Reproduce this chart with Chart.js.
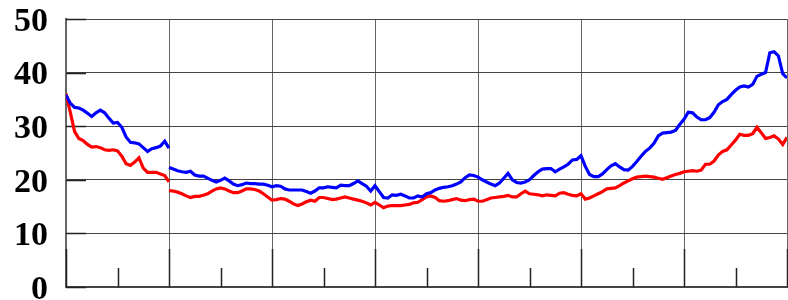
<!DOCTYPE html>
<html>
<head>
<meta charset="utf-8">
<script src="https://cdn.jsdelivr.net/npm/chart.js@4"></script>
<style>
  html, body { margin: 0; padding: 0; background: #fff; }
  #wrap { width: 788px; height: 300px; }
</style>
</head>
<body>
<div id="wrap"><canvas id="chart"></canvas></div>
<script>
// monthly index, 0..168 (7 blocks of 24)
const months = Array.from({ length: 169 }, (_, i) => i);

const yTicks = [0, 10, 20, 30, 40, 50];

// blue, first segment (months 0-24)
const blueOld = [
  35.8, 34.3, 33.5, 33.4, 33.0, 32.4, 31.8, 32.5, 33.0, 32.5,
  31.5, 30.6, 30.7, 29.8, 28.0, 27.0, 26.9, 26.7, 26.0, 25.3,
  25.8, 26.0, 26.3, 27.2, 25.9
];

// blue, second segment (months 24-168)
const blueNew = [
  22.3, 22.0, 21.7, 21.5, 21.4, 21.6, 20.9, 20.7, 20.7, 20.3,
  19.9, 19.6, 19.9, 20.3, 19.8, 19.2, 18.9, 19.1, 19.4, 19.3,
  19.3, 19.2, 19.2, 19.0, 18.7, 18.9, 18.8, 18.3, 18.1, 18.1,
  18.1, 18.1, 17.8, 17.5, 17.9, 18.5, 18.5, 18.7, 18.6, 18.5,
  19.0, 18.9, 18.9, 19.3, 19.8, 19.3, 18.8, 17.9, 18.9, 17.8,
  16.7, 16.6, 17.2, 17.1, 17.3, 17.0, 16.6, 16.6, 17.0, 16.8,
  17.4, 17.6, 18.1, 18.4, 18.6, 18.7, 18.9, 19.2, 19.6, 20.4,
  20.9, 20.8, 20.5, 20.0, 19.6, 19.2, 18.9, 19.4, 20.3, 21.2,
  20.0, 19.5, 19.4, 19.6, 20.0, 20.8, 21.5, 22.0, 22.1, 22.1,
  21.5, 22.0, 22.4, 22.9, 23.7, 23.8, 24.5, 22.5, 21.0, 20.6,
  20.6, 21.1, 21.9, 22.6, 23.0, 22.4, 21.9, 21.8, 22.5, 23.4,
  24.4, 25.3, 25.9, 26.8, 28.2, 28.7, 28.8, 28.9, 29.2, 30.3,
  31.3, 32.6, 32.5, 31.7, 31.2, 31.2, 31.6, 32.6, 34.0, 34.6,
  35.0, 35.9, 36.7, 37.3, 37.5, 37.3, 37.8, 39.3, 39.7, 40.0,
  43.7, 43.9, 43.1, 39.8, 39.0
];

// red, first segment (months 0-24)
const redOld = [
  36.1, 32.6, 29.0, 27.7, 27.3, 26.6, 26.1, 26.2, 26.0, 25.6,
  25.5, 25.6, 25.4, 24.4, 23.0, 22.7, 23.3, 24.1, 22.2, 21.4,
  21.4, 21.4, 21.1, 20.8, 19.6
];

// red, second segment (months 24-168)
const redNew = [
  18.0, 17.9, 17.7, 17.4, 17.0, 16.7, 16.9, 16.9, 17.1, 17.4,
  17.9, 18.3, 18.5, 18.3, 17.9, 17.6, 17.6, 17.9, 18.3, 18.3,
  18.2, 17.9, 17.4, 16.8, 16.2, 16.3, 16.5, 16.4, 16.0, 15.5,
  15.2, 15.5, 15.9, 16.2, 16.0, 16.7, 16.7, 16.5, 16.3, 16.4,
  16.6, 16.8, 16.6, 16.4, 16.2, 16.0, 15.7, 15.3, 15.8, 15.3,
  14.8, 15.1, 15.2, 15.2, 15.2, 15.3, 15.4, 15.7, 15.8, 16.3,
  16.8, 17.0, 16.7, 16.1, 16.0, 16.1, 16.3, 16.5, 16.2, 16.1,
  16.3, 16.4, 16.0, 16.0, 16.3, 16.6, 16.7, 16.8, 16.9, 17.1,
  16.8, 16.8, 17.4, 17.9, 17.4, 17.3, 17.2, 17.0, 17.2, 17.1,
  17.0, 17.5, 17.6, 17.3, 17.1, 17.0, 17.4, 16.4, 16.6, 17.0,
  17.4, 17.8, 18.3, 18.4, 18.5, 18.9, 19.4, 19.8, 20.2, 20.5,
  20.6, 20.7, 20.6, 20.5, 20.3, 20.1, 20.4, 20.7, 21.0, 21.2,
  21.5, 21.6, 21.7, 21.6, 21.8, 22.9, 22.9, 23.5, 24.6, 25.3,
  25.6, 26.5, 27.4, 28.5, 28.3, 28.3, 28.6, 29.8, 28.8, 27.7,
  27.9, 28.2, 27.6, 26.6, 27.9
];

const breakAt = 24;

function padOld(arr) {
  return arr.concat(new Array(months.length - arr.length).fill(null));
}
function padNew(arr) {
  return new Array(breakAt).fill(null).concat(arr);
}

// short tick marks pointing into the plot, like the original
const innerTicks = {
  id: 'innerTicks',
  beforeDatasetsDraw(chart) {
    const ctx = chart.ctx;
    const x = chart.scales.x;
    const y = chart.scales.y;
    const area = chart.chartArea;
    ctx.save();
    ctx.strokeStyle = '#222';
    ctx.lineWidth = 1.5;
    ctx.beginPath();
    for (let m = 0; m <= 168; m += 12) {
      const px = Math.round(x.getPixelForValue(m)) + 0.5;
      const len = m % 24 === 0 ? 38 : 19;
      ctx.moveTo(px, area.bottom);
      ctx.lineTo(px, area.bottom - len);
    }
    yTicks.forEach(v => {
      const py = Math.round(y.getPixelForValue(v)) + 0.5;
      ctx.moveTo(area.left, py);
      ctx.lineTo(area.left + 20, py);
    });
    ctx.stroke();
    ctx.restore();
  }
};

const lineStyle = {
  borderWidth: 3.2,
  pointRadius: 0,
  tension: 0,
  fill: false,
  spanGaps: false
};

let ctx = document.getElementById('chart').getContext('2d');
new Chart(ctx, {
  type: 'line',
  data: {
    labels: months,
    datasets: [
      Object.assign({ data: padOld(blueOld), borderColor: '#0000ff' }, lineStyle),
      Object.assign({ data: padNew(blueNew), borderColor: '#0000ff' }, lineStyle),
      Object.assign({ data: padOld(redOld), borderColor: '#ff0000' }, lineStyle),
      Object.assign({ data: padNew(redNew), borderColor: '#ff0000' }, lineStyle)
    ]
  },
  options: {
    responsive: true,
    maintainAspectRatio: false,
    animation: false,
    layout: { padding: { top: 19, right: 1, bottom: 13, left: 0 } },
    plugins: {
      legend: { display: false },
      tooltip: { enabled: false }
    },
    scales: {
      x: {
        type: 'linear',
        min: 0,
        max: 168,
        ticks: { display: false, stepSize: 12, padding: 0 },
        grid: {
          drawTicks: false,
          color: c => (c.tick && c.tick.value % 24 === 0) ? '#666' : 'rgba(0,0,0,0)',
          lineWidth: 1
        },
        border: { display: true, color: '#444', width: 2 },
        afterFit: s => { s.height = 0; }
      },
      y: {
        min: 0,
        max: 50,
        ticks: {
          stepSize: 10,
          color: '#000',
          padding: 0,
          labelOffset: 3,
          font: { family: 'Liberation Serif', weight: 'bold', size: 34, lineHeight: 0.1 }
        },
        grid: {
          drawTicks: true,
          tickLength: 18,
          tickColor: 'rgba(0,0,0,0)',
          color: '#444',
          lineWidth: 1
        },
        border: { display: true, color: '#666', width: 2 },
        afterFit: s => { s.width = 66; }
      }
    }
  },
  plugins: [innerTicks]
});
</script>
</body>
</html>
